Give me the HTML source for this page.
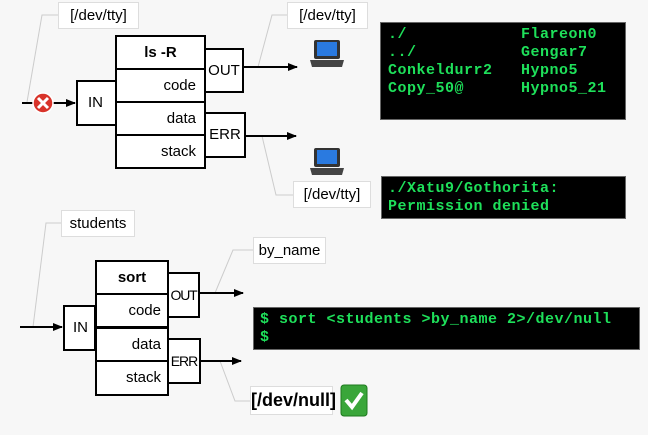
<!DOCTYPE html>
<html><head><style>
body{margin:0;width:648px;height:435px;background:#f7f7f7;position:relative;overflow:hidden;font-family:"Liberation Sans",sans-serif;}
.a{position:absolute;box-sizing:border-box;}
.lbl{background:#fff;border:1px solid #ddd;font-size:15px;text-align:center;color:#000;}
.bx{border:2px solid #000;background:#fff;font-size:15px;}
.term{background:#000;border:1px solid #666;color:#1ee05a;font-family:"Liberation Mono",monospace;font-weight:bold;font-size:15px;letter-spacing:0.5px;line-height:18px;white-space:pre;}
</style></head><body>
<svg class="a" style="left:0;top:0" width="648" height="435">
<defs><marker id="ar" markerWidth="10" markerHeight="8" refX="9" refY="4" orient="auto" markerUnits="userSpaceOnUse"><path d="M0,0 L10,4 L0,8z" fill="#000"/></marker></defs>
<g stroke="#ccc" fill="none" stroke-width="1">
<path d="M58,15 L42,15 L27,102"/>
<path d="M287,15 L272,15 L258,67"/>
<path d="M293,195 L276,195 L262,136"/>
<path d="M61,223 L46,223 L33,327"/>
<path d="M253,250 L233,250 L215,293"/>
<path d="M250,401 L235,401 L220,361"/>
</g>
<g stroke="#000" stroke-width="2" fill="none">
<line x1="22" y1="103" x2="75" y2="103" marker-end="url(#ar)"/>
<line x1="243" y1="67" x2="297" y2="67" marker-end="url(#ar)"/>
<line x1="245" y1="136" x2="296" y2="136" marker-end="url(#ar)"/>
<line x1="20" y1="327" x2="62" y2="327" marker-end="url(#ar)"/>
<line x1="199" y1="293" x2="243" y2="293" marker-end="url(#ar)"/>
<line x1="200" y1="361" x2="241" y2="361" marker-end="url(#ar)"/>
</g>
<circle cx="43" cy="103" r="10" fill="#d8332a" stroke="#fff" stroke-width="1.5"/>
<path d="M38,98 L48,108 M48,98 L38,108" stroke="#fff" stroke-width="3"/>
<g>
<rect x="314" y="40" width="26" height="19" rx="2" fill="#333"/><rect x="317" y="42" width="20" height="14" fill="#2a7ae0"/><path d="M310,60 L344,60 L342,67 L312,67z" fill="#444"/>
<rect x="314" y="148" width="26" height="19" rx="2" fill="#333"/><rect x="317" y="150" width="20" height="14" fill="#2a7ae0"/><path d="M310,168 L344,168 L342,175 L312,175z" fill="#444"/>
</g>
<rect x="341" y="385" width="26" height="31" rx="3" fill="#3aa63a" stroke="#1d7a1d"/>
<path d="M346,400 L352,407 L362,393" stroke="#fff" stroke-width="4" fill="none"/>
</svg>

<div class="a lbl" style="left:58px;top:2px;width:81px;height:27px;line-height:25px">[/dev/tty]</div>
<div class="a lbl" style="left:287px;top:2px;width:81px;height:27px;line-height:25px">[/dev/tty]</div>
<div class="a lbl" style="left:293px;top:181px;width:78px;height:27px;line-height:25px">[/dev/tty]</div>

<div class="a bx" style="left:76px;top:80px;width:41px;height:46px;line-height:42px;padding-left:10px">IN</div>
<div class="a bx" style="left:115px;top:35px;width:91px;height:35px;line-height:31px;text-align:center;font-weight:bold">ls -R</div>
<div class="a bx" style="left:115px;top:68px;width:91px;height:35px;line-height:31px;text-align:right;padding-right:8px">code</div>
<div class="a bx" style="left:115px;top:101px;width:91px;height:35px;line-height:31px;text-align:right;padding-right:8px">data</div>
<div class="a bx" style="left:115px;top:134px;width:91px;height:35px;line-height:31px;text-align:right;padding-right:8px">stack</div>
<div class="a bx" style="left:204px;top:48px;width:40px;height:45px;line-height:41px;text-align:center">OUT</div>
<div class="a bx" style="left:204px;top:112px;width:42px;height:46px;line-height:42px;text-align:center">ERR</div>

<div class="a term" style="left:380px;top:22px;width:246px;height:98px;padding:3px 0 0 7px">./            Flareon0
../           Gengar7
Conkeldurr2   Hypno5
Copy_50@      Hypno5_21</div>
<div class="a term" style="left:381px;top:176px;width:245px;height:43px;padding:3px 0 0 6px">./Xatu9/Gothorita:
Permission denied</div>

<div class="a lbl" style="left:61px;top:210px;width:74px;height:27px;line-height:25px">students</div>
<div class="a lbl" style="left:253px;top:237px;width:73px;height:27px;line-height:25px">by_name</div>

<div class="a bx" style="left:63px;top:305px;width:33px;height:46px;line-height:42px;padding-left:8px">IN</div>
<div class="a bx" style="left:95px;top:260px;width:74px;height:35px;line-height:31px;text-align:center;font-weight:bold">sort</div>
<div class="a bx" style="left:95px;top:293px;width:74px;height:35px;line-height:31px;text-align:right;padding-right:6px">code</div>
<div class="a bx" style="left:95px;top:327px;width:74px;height:35px;line-height:31px;text-align:right;padding-right:6px">data</div>
<div class="a bx" style="left:95px;top:360px;width:74px;height:36px;line-height:32px;text-align:right;padding-right:6px">stack</div>
<div class="a bx" style="left:167px;top:272px;width:33px;height:46px;line-height:42px;text-align:center;font-size:14px;letter-spacing:-1.2px">OUT</div>
<div class="a bx" style="left:167px;top:338px;width:34px;height:46px;line-height:42px;text-align:center;font-size:14px;letter-spacing:-1px">ERR</div>

<div class="a term" style="left:253px;top:307px;width:387px;height:43px;padding:3px 0 0 6px">$ sort &lt;students &gt;by_name 2&gt;/dev/null
$</div>

<div class="a lbl" style="left:250px;top:386px;width:83px;height:29px;line-height:27px;font-size:18px;font-weight:bold">[/dev/null]</div>
</body></html>
